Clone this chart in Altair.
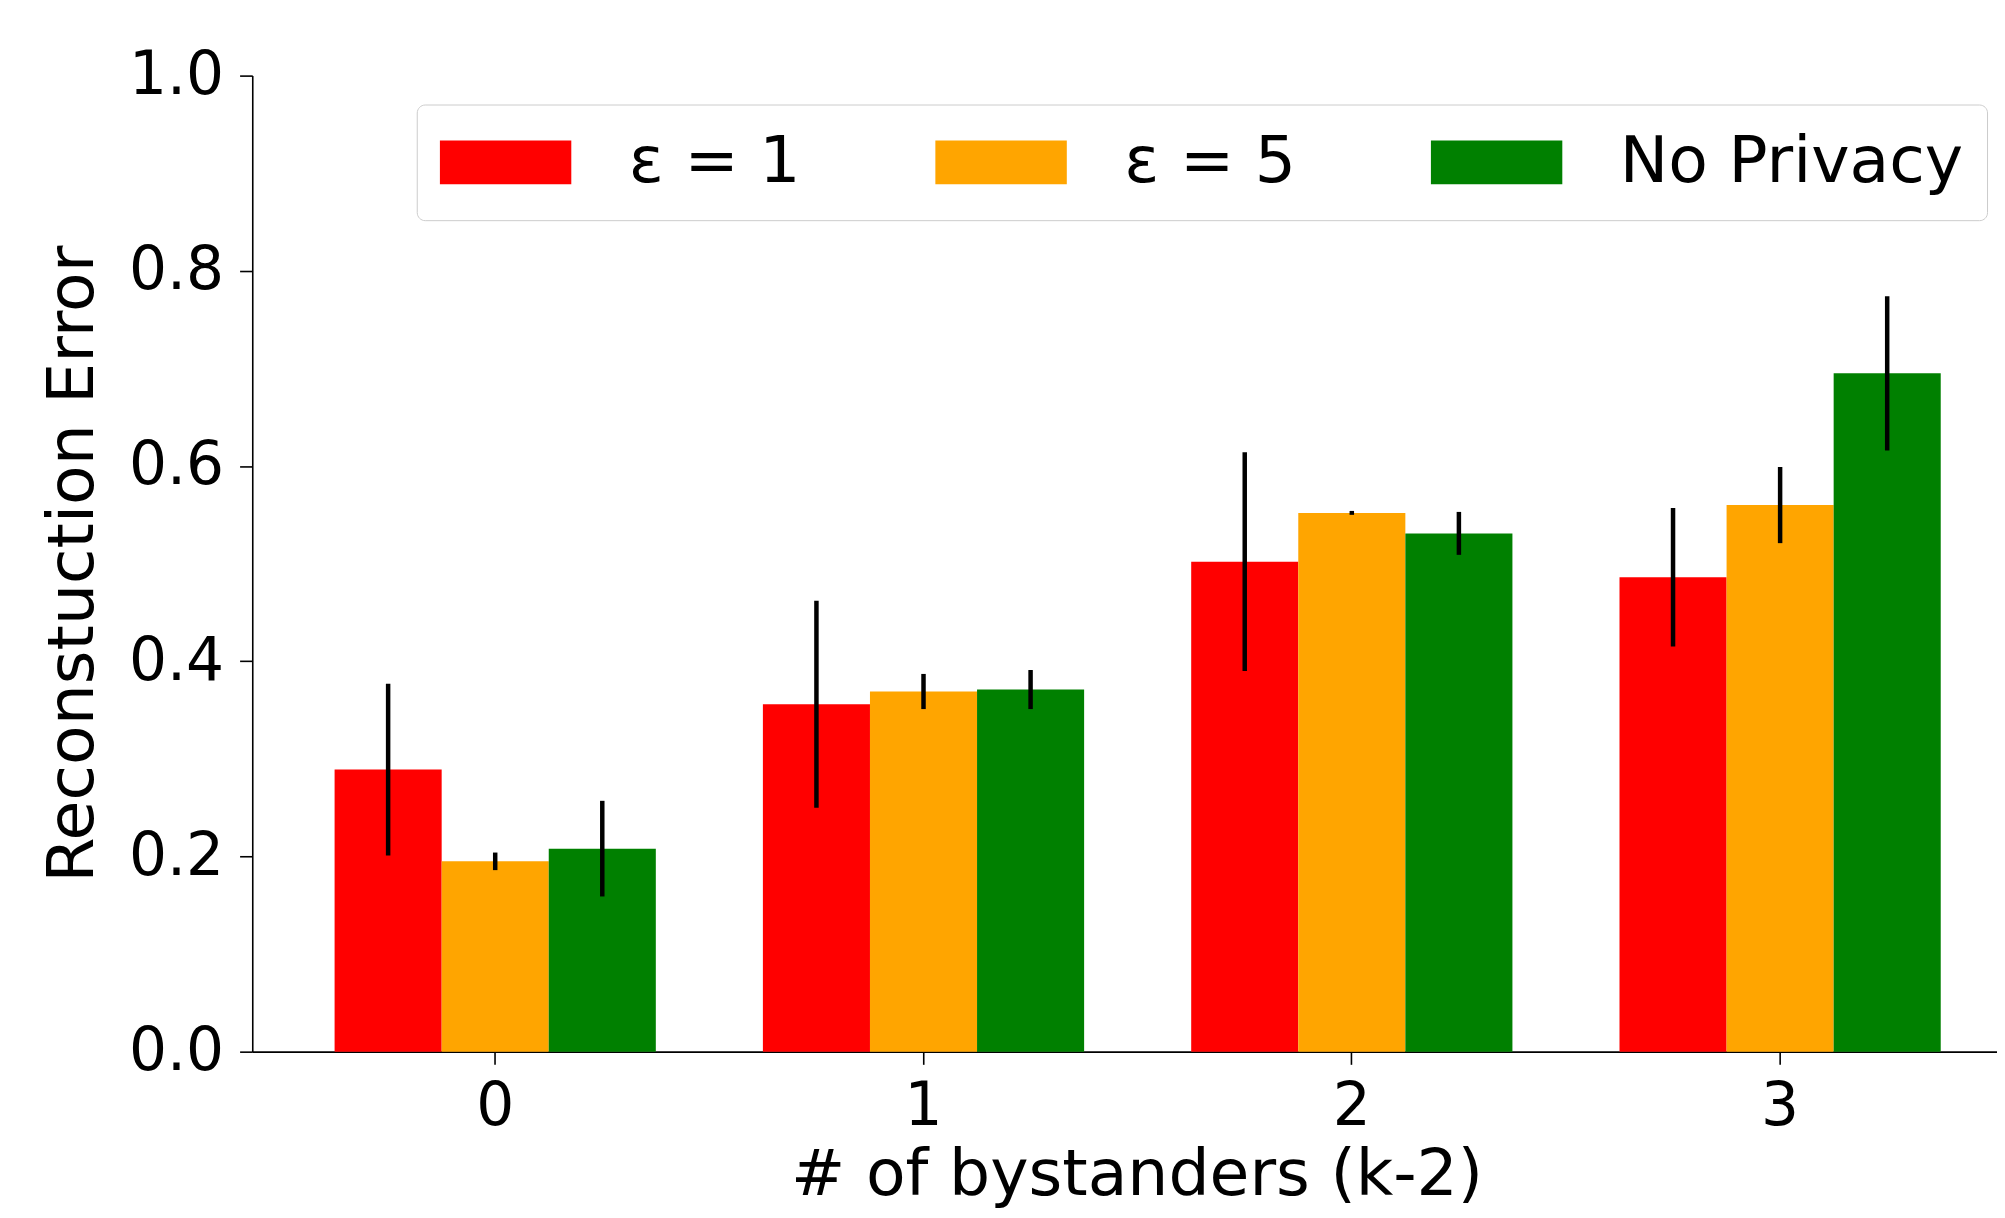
import altair as alt
import pandas as pd

groups = ["0", "1", "2", "3"]
series = ["ε = 1", "ε = 5", "No Privacy"]
colors = ["#ff0000", "#ffa500", "#008000"]

eps1 = [0.289, 0.356, 0.502, 0.486]
eps1_err = [0.088, 0.106, 0.112, 0.071]
eps5 = [0.195, 0.369, 0.552, 0.560]
eps5_err = [0.009, 0.018, 0.002, 0.039]
nopriv = [0.208, 0.371, 0.531, 0.695]
nopriv_err = [0.049, 0.020, 0.022, 0.079]

y_ticks = [0.0, 0.2, 0.4, 0.6, 0.8, 1.0]

rows = []
for s, vals, errs in zip(series, [eps1, eps5, nopriv], [eps1_err, eps5_err, nopriv_err]):
    for g, v, e in zip(groups, vals, errs):
        rows.append({"k": g, "series": s, "value": v, "err": e})
df = pd.DataFrame(rows)

FONT = "DejaVu Sans"

x_enc = alt.X(
    "k:N",
    sort=groups,
    scale=alt.Scale(domain=groups, paddingInner=0.25, paddingOuter=0.1618, align=0.594),
    axis=alt.Axis(
        title="# of bystanders (k-2)",
        labelAngle=0,
        labelFontSize=60,
        labelFont=FONT,
        labelColor="black",
        labelPadding=13,
        tickSize=12.7,
        tickWidth=1.6,
        tickColor="black",
        domainColor="black",
        domainWidth=1.6,
        titleFont=FONT,
        titleFontSize=65,
        titleFontWeight="normal",
        titleColor="black",
        titleX=887,
        titleY=143,
        titleAlign="center",
        titleBaseline="alphabetic",
    ),
)
xoff_enc = alt.XOffset("series:N", sort=series, scale=alt.Scale(domain=series, paddingInner=0, paddingOuter=0))

bars = alt.Chart(df).mark_bar(opacity=1).encode(
    x=x_enc,
    xOffset=xoff_enc,
    y=alt.Y(
        "value:Q",
        scale=alt.Scale(domain=[0, 1], nice=False, zero=True),
        axis=alt.Axis(
            values=y_ticks,
            format=".1f",
            title="Reconstuction Error",
            grid=False,
            labelFontSize=60,
            labelFont=FONT,
            labelColor="black",
            labelPadding=16,
            tickSize=12.7,
            tickWidth=1.6,
            tickColor="black",
            domainColor="black",
            domainWidth=1.6,
            titleFont=FONT,
            titleFontSize=65,
            titleFontWeight="normal",
            titleColor="black",
            titleAngle=270,
            titleX=-160,
            titleY=489.5,
            titleAlign="center",
            titleBaseline="alphabetic",
        ),
    ),
    color=alt.Color(
        "series:N",
        sort=series,
        scale=alt.Scale(domain=series, range=colors),
        legend=alt.Legend(
            title=None,
            orient="none",
            legendX=165,
            legendY=29,
            direction="horizontal",
            columns=3,
            symbolType="M-1,-0.333L1,-0.333L1,0.333L-1,0.333Z",
            symbolSize=17424,
            symbolStrokeWidth=0,
            symbolOpacity=1,
            labelFontSize=65,
            labelFont=FONT,
            labelColor="black",
            labelOffset=57.7,
            labelLimit=800,
            columnPadding=135,
            padding=23,
            clipHeight=70,
            strokeColor="#cccccc",
            fillColor="white",
            cornerRadius=8,
        ),
    ),
)

errs = alt.Chart(df).transform_calculate(
    lo="datum.value - datum.err", hi="datum.value + datum.err"
).mark_rule(color="black", strokeWidth=4.5).encode(
    x=x_enc,
    xOffset=xoff_enc,
    y="lo:Q",
    y2="hi:Q",
)

chart = alt.layer(bars, errs).properties(
    width=1750,
    height=979,
    padding={"left": 245, "top": 66, "right": 0, "bottom": 157},
    autosize=alt.AutoSizeParams(type="none"),
    background="white",
).configure_view(stroke=None)

chart.save("out.html", embed_options={"renderer": "svg", "actions": False})
